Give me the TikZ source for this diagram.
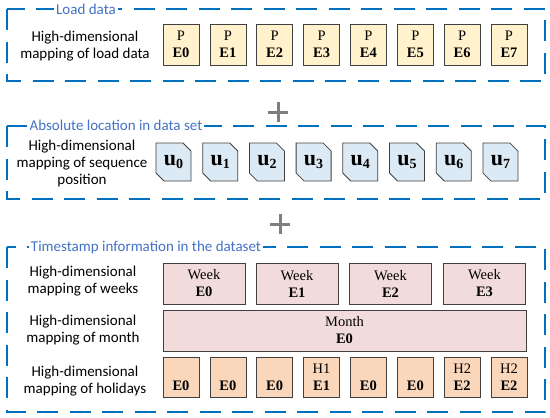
\documentclass[tikz,border=0pt]{standalone}
\usepackage{fontspec}
\setmainfont{Liberation Serif}
\newfontfamily\calibrifont{Carlito}
\usetikzlibrary{shapes.misc}
\definecolor{frameblue}{RGB}{0,112,192}
\definecolor{titleblue}{RGB}{68,114,196}
\definecolor{cellgray}{RGB}{64,64,64}
\definecolor{loadyellow}{RGB}{255,242,204}
\definecolor{posblue}{RGB}{220,234,245}
\definecolor{weekpink}{RGB}{242,220,219}
\definecolor{holipeach}{RGB}{250,214,186}
\definecolor{plusgray}{RGB}{127,127,127}
\newcommand{\posvec}[1]{{\fontsize{22}{24}\selectfont\bfseries u}\raisebox{-2.5pt}{\fontsize{14}{15}\selectfont\bfseries #1}}

\begin{document}
\begin{tikzpicture}[x=1pt, y=-1pt, line join=miter,
  groupframe/.style={draw=frameblue, line width=2.6pt, dash pattern=on 21pt off 11.5pt},
  grouptitle/.style={fill=white, text=titleblue, inner sep=2pt, font=\calibrifont\fontsize{15}{17}\selectfont},
  rowlabel/.style={align=center, font=\calibrifont\fontsize{15}{17}\selectfont},
  cell/.style={draw=cellgray, line width=0.8pt, align=center, inner sep=0pt,
    font=\fontsize{14.5}{17}\selectfont},
  loadcell/.style={cell, fill=loadyellow, minimum width=36pt, minimum height=41pt},
  poscell/.style={cell, fill=posblue, chamfered rectangle, chamfered rectangle corners={north east,south west},
    chamfered rectangle xsep=4pt, chamfered rectangle ysep=4pt, minimum width=35pt, minimum height=38pt},
  weekcell/.style={cell, fill=weekpink, minimum width=82pt, minimum height=41pt},
  holicell/.style={cell, fill=holipeach, minimum width=36pt, minimum height=40pt},
  plussign/.style={minimum size=20pt, inner sep=0pt, path picture={
    \draw[plusgray, line width=3pt] (path picture bounding box.north) -- (path picture bounding box.south);
    \draw[plusgray, line width=3pt] (path picture bounding box.west) -- (path picture bounding box.east);}}]

\useasboundingbox (0,0) rectangle (550,418);

% ---------- load data ----------
\draw[groupframe] (7,9) rectangle (545,81);
\node[grouptitle] (loadtitle) at (86,9) {Load data};
\node[rowlabel] (loadlabel) at (85,46) {High-dimensional\\mapping of load data};
\node[loadcell] (load0) at (181,44.5) {P\\\textbf{E0}};
\node[loadcell] (load1) at (227.9,44.5) {P\\\textbf{E1}};
\node[loadcell] (load2) at (274.7,44.5) {P\\\textbf{E2}};
\node[loadcell] (load3) at (321.6,44.5) {P\\\textbf{E3}};
\node[loadcell] (load4) at (368.4,44.5) {P\\\textbf{E4}};
\node[loadcell] (load5) at (415.3,44.5) {P\\\textbf{E5}};
\node[loadcell] (load6) at (462.2,44.5) {P\\\textbf{E6}};
\node[loadcell] (load7) at (509,44.5) {P\\\textbf{E7}};

\node[plussign] (plus1) at (278,112) {};

% ---------- sequence position ----------
\draw[groupframe] (7,126) rectangle (545,199);
\node[grouptitle] (postitle) at (116,125) {Absolute location in data set};
\node[rowlabel] (poslabel) at (82,163) {High-dimensional\\mapping of sequence\\position};
\node[poscell] (pos0) at (173.5,162) {\posvec{0}};
\node[poscell] (pos1) at (220.2,162) {\posvec{1}};
\node[poscell] (pos2) at (266.9,162) {\posvec{2}};
\node[poscell] (pos3) at (313.6,162) {\posvec{3}};
\node[poscell] (pos4) at (360.3,162) {\posvec{4}};
\node[poscell] (pos5) at (407,162) {\posvec{5}};
\node[poscell] (pos6) at (453.7,162) {\posvec{6}};
\node[poscell] (pos7) at (500.4,162) {\posvec{7}};

\node[plussign] (plus2) at (280,224) {};

% ---------- timestamp ----------
\draw[groupframe] (7,247) rectangle (545,412);
\node[grouptitle] (timetitle) at (146,247) {Timestamp information in the dataset};

\node[rowlabel] (weeklabel) at (83,281) {High-dimensional\\mapping of weeks};
\node[weekcell] (week0) at (204,283.5) {Week\\\textbf{E0}};
\node[weekcell] (week1) at (297,283.5) {Week\\\textbf{E1}};
\node[weekcell] (week2) at (390.5,283.5) {Week\\\textbf{E2}};
\node[weekcell] (week3) at (484.5,283.5) {Week\\\textbf{E3}};

\node[rowlabel] (monthlabel) at (83,330) {High-dimensional\\mapping of month};
\node[cell, fill=weekpink, minimum width=363pt, minimum height=41pt] (month) at (344.5,330.5) {Month\\\textbf{E0}};

\node[rowlabel] (holilabel) at (85,381) {High-dimensional\\mapping of holidays};
\node[holicell] (holi0) at (181,377) {\phantom{H1}\\\textbf{E0}};
\node[holicell] (holi1) at (227.9,377) {\phantom{H1}\\\textbf{E0}};
\node[holicell] (holi2) at (274.7,377) {\phantom{H1}\\\textbf{E0}};
\node[holicell] (holi3) at (321.6,377) {H1\\\textbf{E1}};
\node[holicell] (holi4) at (368.4,377) {\phantom{H1}\\\textbf{E0}};
\node[holicell] (holi5) at (415.3,377) {\phantom{H1}\\\textbf{E0}};
\node[holicell] (holi6) at (462.2,377) {H2\\\textbf{E2}};
\node[holicell] (holi7) at (509,377) {H2\\\textbf{E2}};

\end{tikzpicture}
\end{document}
